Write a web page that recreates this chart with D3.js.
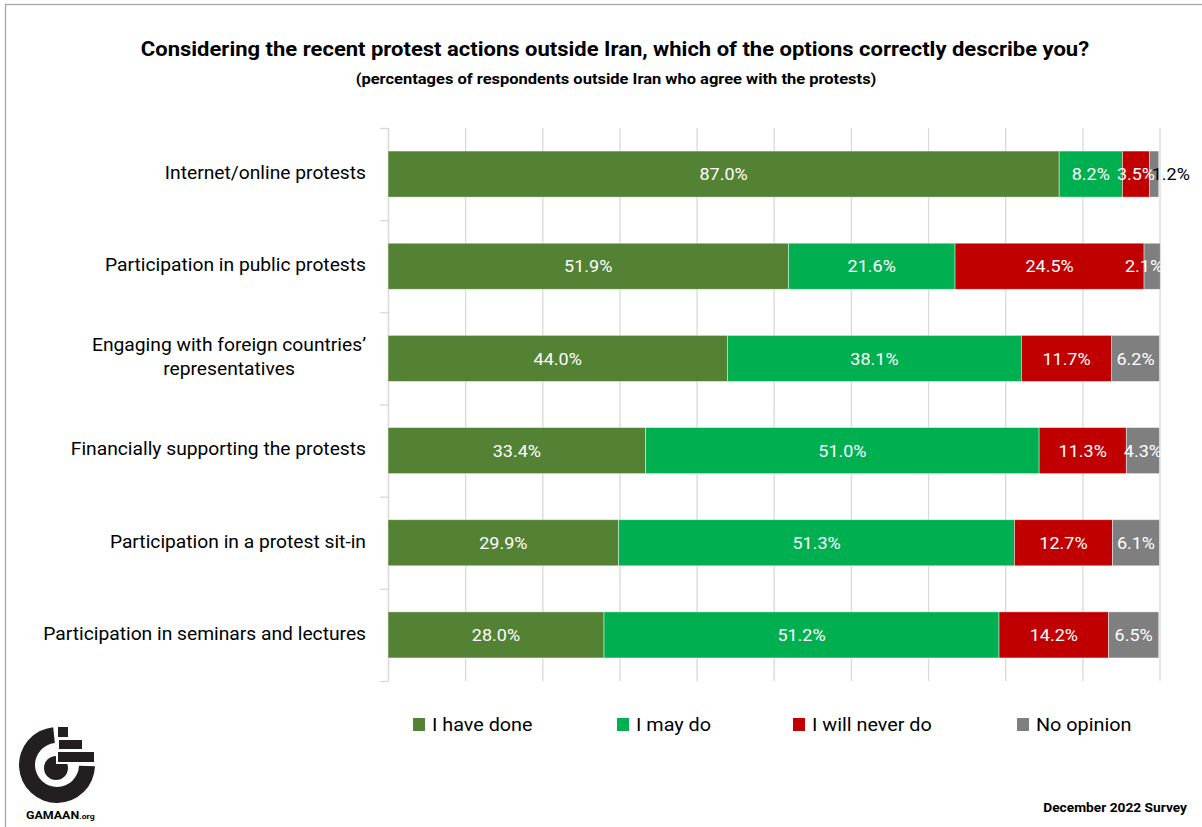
<!DOCTYPE html>
<html>
<head>
<meta charset="utf-8">
<script src="https://cdn.jsdelivr.net/npm/d3@7"></script>
<style>
  html, body { margin: 0; padding: 0; background: #fff; }
  svg { display: block; font-family: Roboto, "Noto Sans", sans-serif; }
</style>
</head>
<body>
<svg id="chart" width="1202" height="827"></svg>
<script>
// Survey items (top to bottom) and the share of each answer, in percent
const categories = [
  ["Internet/online protests"],
  ["Participation in public protests"],
  ["Engaging with foreign countries’", "representatives"],
  ["Financially supporting the protests"],
  ["Participation in a protest sit-in"],
  ["Participation in seminars and lectures"]
];
const seriesNames = ["I have done", "I may do", "I will never do", "No opinion"];
const haveDone   = [87.0, 51.9, 44.0, 33.4, 29.9, 28.0];
const mayDo      = [8.2, 21.6, 38.1, 51.0, 51.3, 51.2];
const willNever  = [3.5, 24.5, 11.7, 11.3, 12.7, 14.2];
const noOpinion  = [1.2, 2.1, 6.2, 4.3, 6.1, 6.5];
const xTicks = [0, 10, 20, 30, 40, 50, 60, 70, 80, 90, 100];

const colors = ["#548235", "#00b050", "#c00000", "#7f7f7f"];
const seriesValues = [haveDone, mayDo, willNever, noOpinion];

const svg = d3.select("#chart");
const W = 1202, H = 827;
const plot = { left: 388, right: 1159.5, top: 128, bottom: 681 };
const SX = 1.1; // horizontal widening of the lettering

// text placed at (x,y), widened horizontally around its anchor
function label(parent, x, y, str, opts) {
  const g = parent.append("g").attr("transform", `translate(${x},${y}) scale(${opts.sx || SX},1)`);
  return g.append("text")
    .attr("text-anchor", opts.anchor || "start")
    .attr("dy", opts.dy || null)
    .attr("font-size", opts.size)
    .attr("font-weight", opts.weight || "normal")
    .attr("fill", opts.fill || "#000")
    .text(str);
}

// outer frame
svg.append("rect")
  .attr("x", 5.5).attr("y", 4.5)
  .attr("width", W + 10).attr("height", H + 10)
  .attr("fill", "none").attr("stroke", "#a6a6a6").attr("stroke-width", 1.3);

// titles
label(svg, 615, 56, "Considering the recent protest actions outside Iran, which of the options correctly describe you?",
  { anchor: "middle", size: 20, weight: "bold" });
label(svg, 616, 84, "(percentages of respondents outside Iran who agree with the protests)",
  { anchor: "middle", size: 15, weight: "bold" });

const x = d3.scaleLinear().domain([0, 100]).range([plot.left, plot.right]);
const y = d3.scaleBand().domain(d3.range(categories.length))
  .range([plot.top, plot.bottom]).paddingInner(0.5).paddingOuter(0.25);

// vertical gridlines
const gx = svg.append("g")
  .attr("transform", `translate(0,${plot.bottom})`)
  .call(d3.axisBottom(x).tickValues(xTicks).tickSize(-(plot.bottom - plot.top)).tickFormat(""));
gx.select(".domain").remove();
gx.selectAll(".tick line").attr("stroke", "#d9d9d9").attr("stroke-width", 1.3);

// category axis with ticks between the bands
const bandEdges = d3.range(categories.length + 1).map(i => plot.top + i * (plot.bottom - plot.top) / categories.length);
const yEdge = d3.scaleLinear().domain([plot.top, plot.bottom]).range([plot.top, plot.bottom]);
const gy = svg.append("g")
  .attr("transform", `translate(${plot.left},0)`)
  .call(d3.axisLeft(yEdge).tickValues(bandEdges).tickSize(8).tickSizeOuter(0).tickFormat(""));
gy.select(".domain").attr("stroke", "#d9d9d9").attr("stroke-width", 1.3);
gy.selectAll(".tick line").attr("stroke", "#d9d9d9").attr("stroke-width", 1.3);

// stacked bars
const segs = categories.flatMap((c, i) => {
  let acc = 0;
  return seriesValues.map((vals, s) => {
    const seg = { row: i, s, v: vals[i], x0: acc, x1: acc + vals[i] };
    acc += vals[i];
    return seg;
  });
});

svg.append("g").selectAll("rect").data(segs).join("rect")
  .attr("x", d => x(d.x0))
  .attr("y", d => y(d.row))
  .attr("width", d => x(d.x1) - x(d.x0))
  .attr("height", y.bandwidth())
  .attr("fill", d => colors[d.s])
  .attr("stroke", "rgba(255,255,255,0.55)")
  .attr("stroke-width", 0.8);

// value labels; those inside the bars are clipped at the plot edge
svg.append("clipPath").attr("id", "plotClip")
  .append("rect").attr("x", plot.left).attr("y", plot.top)
  .attr("width", plot.right - plot.left + 1).attr("height", plot.bottom - plot.top);
const inside = svg.append("g").attr("clip-path", "url(#plotClip)");
const outside = svg.append("g");
segs.forEach(d => {
  const cy = y(d.row) + y.bandwidth() / 2;
  const txt = d.v.toFixed(1) + "%";
  if (d.v < 2) {
    label(outside, x(d.x1) + 12, cy, txt, { anchor: "middle", size: 17, dy: "0.36em", sx: 1.06 });
  } else {
    const c = Math.min((x(d.x0) + x(d.x1)) / 2, 1144);
    label(inside, c, cy, txt, { anchor: "middle", size: 17, dy: "0.36em", sx: 1.06, fill: "#fff" });
  }
});

// category labels: right-aligned block, lines centred within it
const labelRight = 366;
categories.forEach((lines, i) => {
  const cy = y(i) + y.bandwidth() / 2 - 1;
  const lh = 24.5;
  const g = svg.append("g").attr("transform", `translate(${labelRight},${cy}) scale(${SX},1)`);
  const t = g.append("text").attr("font-size", 17.5).attr("fill", "#000").attr("text-anchor", "middle");
  const spans = lines.map((ln, k) => t.append("tspan")
    .attr("y", (k - (lines.length - 1) / 2) * lh)
    .attr("dy", "0.33em")
    .text(ln));
  const w = d3.max(spans, sp => sp.node().getComputedTextLength());
  spans.forEach(sp => sp.attr("x", -w / 2));
});

// legend
const legendX = [413, 617, 793, 1017];
const leg = svg.append("g");
seriesNames.forEach((name, s) => {
  leg.append("rect")
    .attr("x", legendX[s]).attr("y", 718)
    .attr("width", 12).attr("height", 13)
    .attr("fill", colors[s]);
  label(leg, legendX[s] + 19, 724.5, name, { size: 18, dy: "0.36em" });
});

// footer
label(svg, 1187, 812, "December 2022 Survey", { anchor: "end", size: 12.5, weight: "bold" });

// logo
const logo = svg.append("g").attr("transform", "translate(57,765)");
const arc = d3.arc();
logo.append("path")
  .attr("d", arc({ innerRadius: 22, outerRadius: 38, startAngle: Math.PI / 2 + 0.03, endAngle: 2 * Math.PI - 0.1 }))
  .attr("fill", "#231f20");
logo.append("circle").attr("cx", -1).attr("cy", 3).attr("r", 12).attr("fill", "#231f20");
logo.append("rect").attr("x", 0).attr("y", -14).attr("width", 38).attr("height", 12)
  .attr("fill", "#231f20").attr("stroke", "#fff").attr("stroke-width", 2);
logo.append("rect").attr("x", 1).attr("y", -26).attr("width", 25).attr("height", 11)
  .attr("fill", "#231f20").attr("stroke", "#fff").attr("stroke-width", 2);
logo.append("rect").attr("x", 0).attr("y", -39).attr("width", 12).attr("height", 12)
  .attr("fill", "#231f20").attr("stroke", "#fff").attr("stroke-width", 2);
const lg = svg.append("g").attr("transform", "translate(26,819) scale(1.08,1)");
const lt = lg.append("text").attr("fill", "#000");
lt.append("tspan").attr("font-size", 11.5).attr("font-weight", "bold").text("GAMAAN");
lt.append("tspan").attr("font-size", 8).attr("font-weight", "bold").text(".org");
</script>
</body>
</html>
